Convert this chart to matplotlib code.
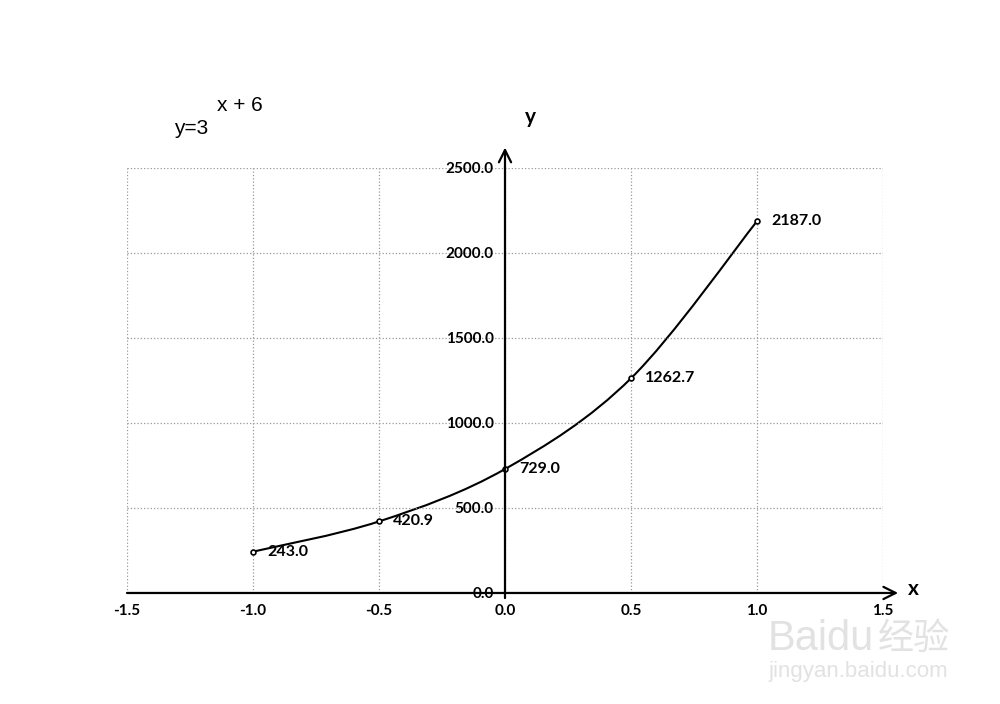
import matplotlib.pyplot as plt
from matplotlib.path import Path
from matplotlib.patches import PathPatch

x_vals = [-1.0, -0.5, 0.0, 0.5, 1.0]
y_vals = [243.0, 420.9, 729.0, 1262.7, 2187.0]
x_ticks = [-1.5, -1.0, -0.5, 0.0, 0.5, 1.0, 1.5]
y_ticks = [0, 500, 1000, 1500, 2000, 2500]


def smooth_path(xs, ys):
    # Excel-like smoothed line: cubic bezier through the points
    pts = list(zip(xs, ys))
    n = len(pts)
    verts = [pts[0]]
    codes = [Path.MOVETO]
    for i in range(n - 1):
        p0 = pts[i - 1] if i > 0 else pts[i]
        p1 = pts[i]
        p2 = pts[i + 1]
        p3 = pts[i + 2] if i + 2 < n else pts[i + 1]
        c1 = (p1[0] + (p2[0] - p0[0]) / 6, p1[1] + (p2[1] - p0[1]) / 6)
        c2 = (p2[0] - (p3[0] - p1[0]) / 6, p2[1] - (p3[1] - p1[1]) / 6)
        verts += [c1, c2, p2]
        codes += [Path.CURVE4] * 3
    return Path(verts, codes)


plt.rcParams['font.family'] = ['Lato', 'DejaVu Sans']

fig = plt.figure(figsize=(10, 7.04), dpi=100)
ax = fig.add_axes([0.127, 0.1577, 0.756, 0.6037])
ax.set_xlim(-1.5, 1.5)
ax.set_ylim(0, 2500)

for s in ax.spines.values():
    s.set_visible(False)
ax.spines['left'].set_position(('data', 0))

ax.set_xticks(x_ticks)
ax.set_xticklabels([f'{v:.1f}' for v in x_ticks], fontsize=11, fontweight='bold')
ax.set_yticks(y_ticks)
ax.set_yticklabels([f'{v:.1f}' for v in y_ticks], fontsize=11, fontweight='bold')
ax.tick_params(length=0)
ax.tick_params(axis='x', pad=8)
ax.tick_params(axis='y', pad=8)
ax.grid(True, linestyle=':', color='#999999', linewidth=0.9)

# axes with arrows
ax.annotate('', xy=(1.56, 0), xytext=(-1.5, 0), annotation_clip=False,
            arrowprops=dict(arrowstyle='->', lw=1.6, color='black',
                            mutation_scale=22, shrinkA=0, shrinkB=0))
ax.annotate('', xy=(0, 2620), xytext=(0, -30), annotation_clip=False,
            arrowprops=dict(arrowstyle='->', lw=1.6, color='black',
                            mutation_scale=22, shrinkA=0, shrinkB=0))
ax.text(1.6, 25, 'x', fontsize=15, fontweight='bold', ha='left', va='center',
        clip_on=False)
ax.text(0.1, 2800, 'y', fontsize=15, fontweight='bold', ha='center',
        va='center', clip_on=False)

ax.add_patch(PathPatch(smooth_path(x_vals, y_vals), fill=False, lw=1.5,
                       color='black'))
ax.plot(x_vals, y_vals, 'o', ms=3.5, mfc='white', mec='black', mew=1.2)

for xv, yv in zip(x_vals, y_vals):
    ax.annotate(f'{yv:.1f}', (xv, yv), xytext=(10, 0),
                textcoords='offset points', fontsize=11.5, fontweight='bold',
                va='center', ha='left')

fig.text(0.174, 0.818, 'y=3', fontsize=15, ha='left', va='center',
         family=['Liberation Sans'])
fig.text(0.217, 0.85, 'x + 6', fontsize=15, ha='left', va='center',
         family=['Liberation Sans'])

# watermark
fig.text(0.768, 0.092, 'Baidu', fontsize=30, color='#e2e2e2', ha='left',
         va='center', family=['Liberation Sans'])
fig.text(0.878, 0.092, '经验', fontsize=26, color='#e2e2e2', ha='left',
         va='center', family=['Noto Sans CJK SC'])
fig.text(0.768, 0.046, 'jingyan.baidu.com', fontsize=16, color='#e2e2e2',
         ha='left', va='center', family=['Liberation Sans'])

fig.savefig('out.png', dpi=100)
